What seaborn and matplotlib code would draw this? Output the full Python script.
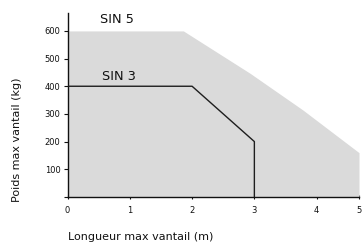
import pandas as pd
import matplotlib
matplotlib.use("Agg")
import matplotlib.pyplot as plt
import seaborn as sns

# values
sin5_x = [0, 1.86, 2.93, 3.78, 4.68]
sin5_y = [600, 600, 447, 314, 160]
sin3_x = [0, 2, 3, 3]
sin3_y = [400, 400, 200, 0]
x_labels = ["0", "1", "2", "3", "4", "5"]
y_ticks = [0, 100, 200, 300, 400, 500, 600]
y_labels = ["", "100", "200", "300", "400", "500", "600"]

sns.set_theme(style="ticks")
plt.rcParams['font.family'] = ['DejaVu Sans']

fig = plt.figure(figsize=(3.63, 2.44), dpi=100)
ax = fig.add_axes([0.186, 0.193, 0.803, 0.754])

df3 = pd.DataFrame({"x": sin3_x, "y": sin3_y})

ax.fill_between(sin5_x, sin5_y, 0, color="#dadada", linewidth=0, zorder=1)
sns.lineplot(data=df3, x="x", y="y", sort=False, estimator=None,
             color="#1e1e1e", linewidth=1.0, ax=ax, zorder=3)

ax.text(0.52, 640, "SIN 5", fontsize=9.3, va="center", ha="left", color="#111111")
ax.text(0.55, 437, "SIN 3", fontsize=9.3, va="center", ha="left", color="#111111")

xmax = sin5_x[-1]
ax.set_xlim(0, xmax)
ax.set_ylim(0, 665)
ax.set_xticks([0, 1, 2, 3, 4, xmax], x_labels)
ax.set_yticks(y_ticks, y_labels)
ax.tick_params(axis="both", labelsize=6, length=3, width=0.8, pad=2, colors="#111111")
ax.tick_params(axis="x", direction="inout", pad=5)

sns.despine(ax=ax)
for s in ["left", "bottom"]:
    ax.spines[s].set_color("#111111")
    ax.spines[s].set_linewidth(1.0)

ax.set_xlabel("Longueur max vantail (m)", fontsize=8, loc="left", color="#111111")
ax.xaxis.set_label_coords(0.0, -0.19)
ax.xaxis.label.set_horizontalalignment("left")
ax.set_ylabel("Poids max vantail (kg)", fontsize=8, color="#111111")
ax.yaxis.set_label_coords(-0.156, 0.31)

fig.savefig("out.png", dpi=100)
